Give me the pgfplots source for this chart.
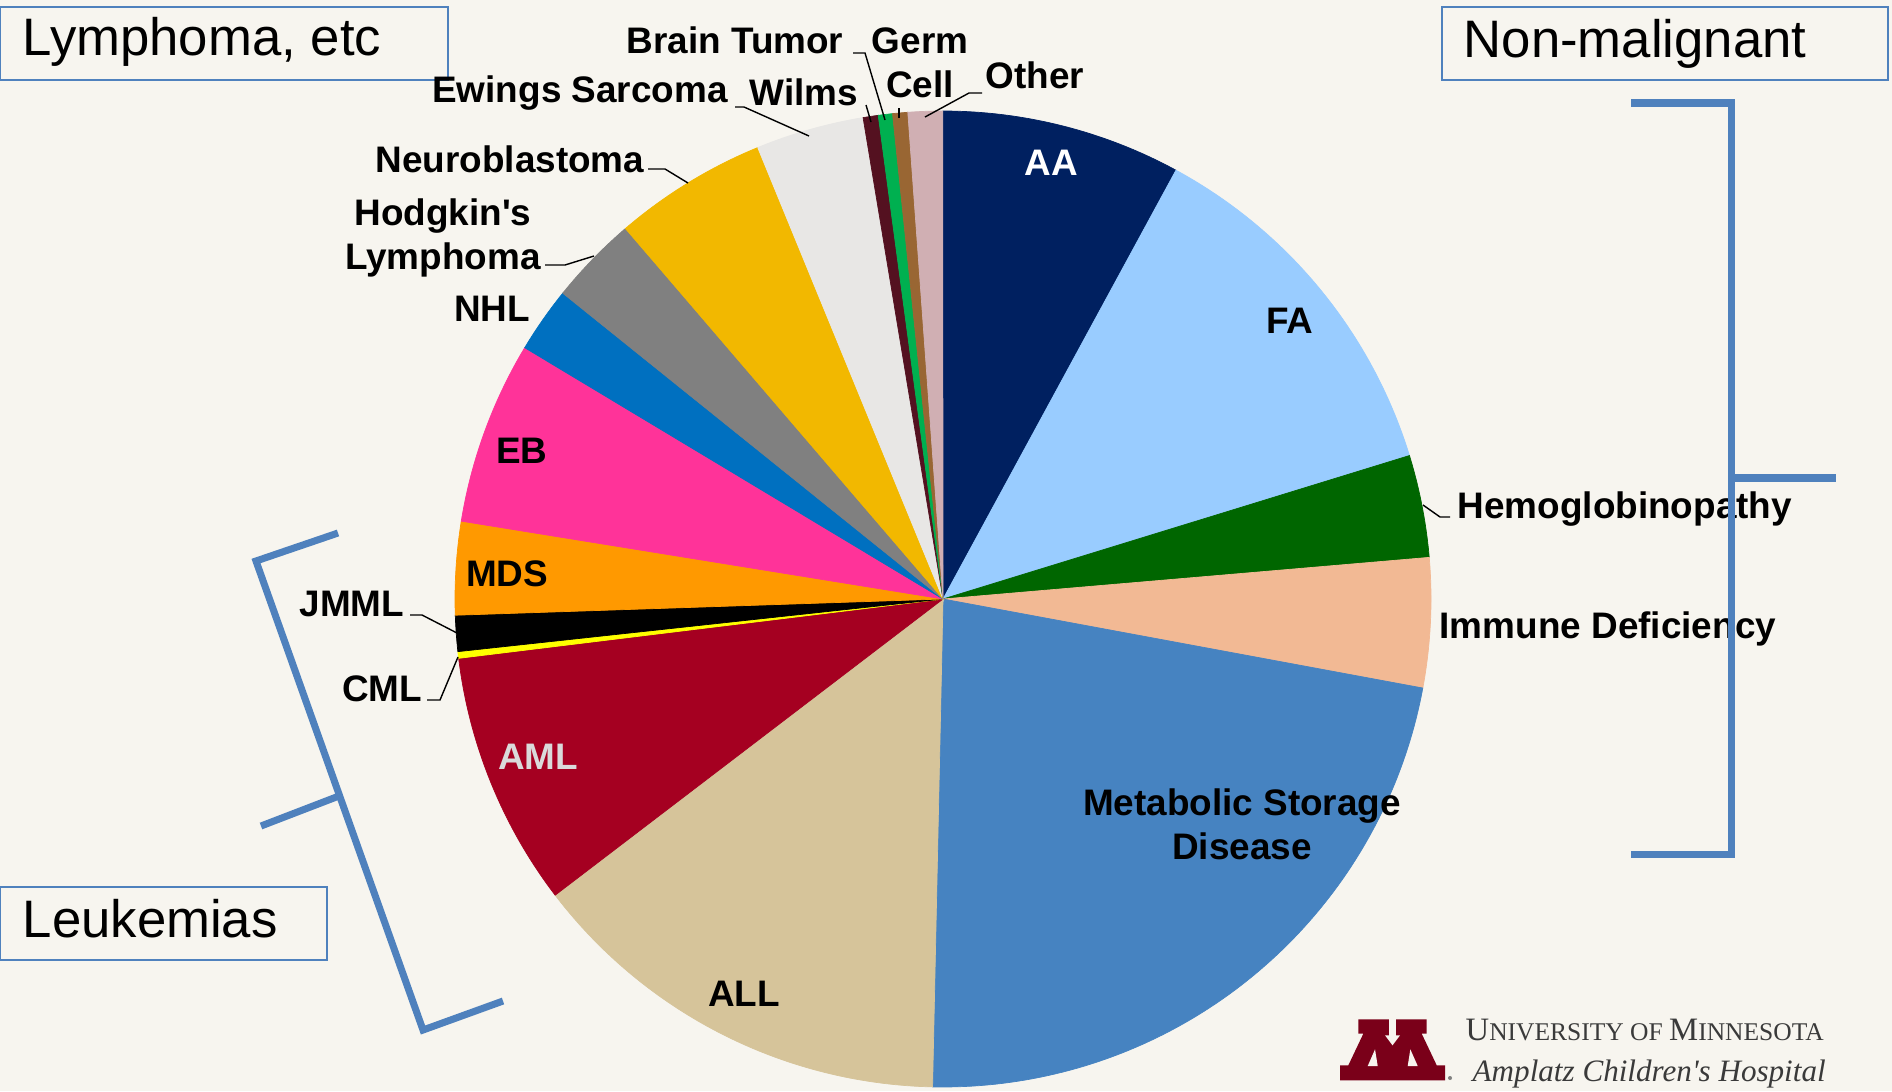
\documentclass[border=0pt]{standalone}
\usepackage{pgfplots}
\pgfplotsset{compat=1.18}
\usepackage{fontspec}
\setmainfont{Liberation Sans}
\newfontfamily\seriffont{Liberation Serif}
\definecolor{bg}{HTML}{F7F5EF}
\definecolor{cAA}{HTML}{002060}
\definecolor{cFA}{HTML}{99CCFF}
\definecolor{cHemo}{HTML}{006600}
\definecolor{cID}{HTML}{F2B994}
\definecolor{cMSD}{HTML}{4683C1}
\definecolor{cALL}{HTML}{D6C49A}
\definecolor{cAML}{HTML}{A50021}
\definecolor{cCML}{HTML}{FFFF00}
\definecolor{cJMML}{HTML}{000000}
\definecolor{cMDS}{HTML}{FF9900}
\definecolor{cEB}{HTML}{FF3399}
\definecolor{cNHL}{HTML}{0070C0}
\definecolor{cHL}{HTML}{808080}
\definecolor{cNB}{HTML}{F2B800}
\definecolor{cEw}{HTML}{E8E7E5}
\definecolor{cWilms}{HTML}{541120}
\definecolor{cBrain}{HTML}{00B050}
\definecolor{cGerm}{HTML}{996633}
\definecolor{cOther}{HTML}{D0AFB3}
\definecolor{brk}{HTML}{4F81BD}
\definecolor{amltext}{HTML}{DADADA}
\definecolor{umn}{HTML}{7A0019}
\definecolor{logotext}{HTML}{3A3A3A}

\tikzset{
  lab/.style={font=\fontsize{10.5}{12.6}\selectfont\bfseries, inner sep=0pt, text=black},
  box/.style={draw=brk, line width=0.5pt, fill=bg},
  boxtxt/.style={font=\fontsize{15}{18}\selectfont, inner sep=0pt, anchor=base west},
  lead/.style={black, line width=0.4pt}}

\newcommand{\cum}{0}
\newcommand{\slice}[2]{%
  \pgfmathsetmacro{\aS}{90-3.6*\cum}%
  \pgfmathsetmacro{\aE}{90-3.6*(\cum+#2)}%
  \edef\temp{\noexpand\addplot[fill=#1, draw=#1, line width=0.2pt, domain=\aE:\aS, samples=90] ({943+488*cos(x)},{599-488*sin(x)}) -- (axis cs:943,599) -- cycle;}%
  \temp
  \pgfmathsetmacro{\newcum}{\cum+#2}%
  \xdef\cum{\newcum}%
}

\begin{document}
\begin{tikzpicture}
\fill[bg] (0,0) rectangle (18.92cm,10.91cm);
\path[use as bounding box] (0,0) rectangle (18.92cm,10.91cm);
\begin{axis}[at={(0,0)}, anchor=south west, scale only axis,
  width=18.92cm, height=10.91cm,
  xmin=0, xmax=1892, ymin=0, ymax=1091, y dir=reverse,
  hide axis, clip=false]
% pie slices, values in percent, clockwise from the top
\slice{cAA}{7.92}
\slice{cFA}{12.33}
\slice{cHemo}{3.39}
\slice{cID}{4.28}
\slice{cMSD}{22.42}
\slice{cALL}{14.28}
\slice{cAML}{8.44}
\slice{cCML}{0.22}
\slice{cJMML}{1.19}
\slice{cMDS}{3.08}
\slice{cEB}{6.06}
\slice{cNHL}{2.17}
\slice{cHL}{2.94}
\slice{cNB}{5.08}
\slice{cEw}{3.58}
\slice{cWilms}{0.50}
\slice{cBrain}{0.47}
\slice{cGerm}{0.50}
\slice{cOther}{1.14}

% group boxes
\draw[box] (0,7) rectangle (448,80);
\node[boxtxt] at (22,55) {Lymphoma, etc};
\draw[box] (1442,7) rectangle (1888,80);
\node[boxtxt] at (1463,57) {Non-malignant};
\draw[box] (0,887) rectangle (327,960);
\node[boxtxt] at (22,937) {Leukemias};

% leader lines
\draw[lead] (1423,505) -- (1440,517) -- (1450,517);
\draw[lead] (410,615) -- (422,615) -- (457,633);
\draw[lead] (458,657) -- (440,700) -- (427,700);
\draw[lead] (545,265) -- (565,265) -- (594,256);
\draw[lead] (648,169) -- (665,169) -- (688,183);
\draw[lead] (735,107) -- (744,107) -- (809,136);
\draw[lead] (866,105) -- (871,122);
\draw[lead] (853,53) -- (865,53) -- (885,120);
\draw[lead] (899,108) -- (899,118);
\draw[lead] (982,93) -- (969,93) -- (925,117);

% slice labels
\node[lab, text=white] at (1051,163) {AA};
\node[lab] at (1290,321) {FA};
\node[lab, anchor=west] at (1457,509) {Hemoglobinopathy};
\node[lab, anchor=west] at (1439,629) {Immune Deficiency};
\node[lab, align=center] at (1242,824) {Metabolic Storage\\Disease};
\node[lab] at (744,994) {ALL};
\node[lab, text=amltext] at (538,757) {AML};
\node[lab] at (382,689) {CML};
\node[lab] at (352,604) {JMML};
\node[lab] at (507,574) {MDS};
\node[lab] at (522,451) {EB};
\node[lab] at (492,309) {NHL};
\node[lab, align=center] at (443,238) {Hodgkin\textquotesingle s\\Lymphoma};
\node[lab] at (510,159) {Neuroblastoma};
\node[lab] at (580,93) {Ewings Sarcoma};
\node[lab] at (804,92) {Wilms};
\node[lab] at (735,40) {Brain Tumor};
\node[lab, align=center] at (920,63) {Germ\\Cell};
\node[lab] at (1035,75) {Other};

% brackets
\draw[brk, line width=2pt, line join=miter] (1631,103) -- (1731,103) -- (1731,854) -- (1631,854);
\draw[brk, line width=2pt] (1731,478) -- (1836,478);
\draw[brk, line width=2pt, line join=miter] (338,533) -- (256,561) -- (423,1030) -- (503,1001);
\draw[brk, line width=2pt] (339,796) -- (261,826);

% logo
\fill[umn] (1340,1080.3) -- (1445,1080.3) -- (1445,1065.3) -- (1436.7,1065.3) -- (1421.7,1033.7) -- (1426.7,1033.7) -- (1426.7,1019.3) -- (1358.3,1019.3) -- (1358.3,1033.7) -- (1363.3,1033.7) -- (1348.3,1065.3) -- (1340,1065.3) -- cycle;
\fill[bg] (1389,1018.7) rectangle (1396,1036);
\fill[bg] (1385,1035.3) -- (1400,1035.3) -- (1392.5,1045.3) -- cycle;
\fill[bg] (1367.7,1066) -- (1377.7,1066) -- (1375,1049.3) -- cycle;
\fill[bg] (1407.7,1066) -- (1417.7,1066) -- (1410.3,1049.3) -- cycle;
\fill[gray] (1450,1078) circle[radius=2];
\node[anchor=base west, inner sep=0pt, text=logotext] at (1465,1040) {\resizebox{35.8mm}{!}{\seriffont{\fontsize{8.2}{9}\selectfont U}{\fontsize{6.4}{7}\selectfont NIVERSITY OF }{\fontsize{8.2}{9}\selectfont M}{\fontsize{6.4}{7}\selectfont INNESOTA}}};
\node[anchor=base west, inner sep=0pt, text=logotext] at (1472,1081) {\resizebox{35.3mm}{!}{\seriffont\itshape\fontsize{8.9}{10}\selectfont Amplatz Children's Hospital}};
\end{axis}
\end{tikzpicture}
\end{document}
